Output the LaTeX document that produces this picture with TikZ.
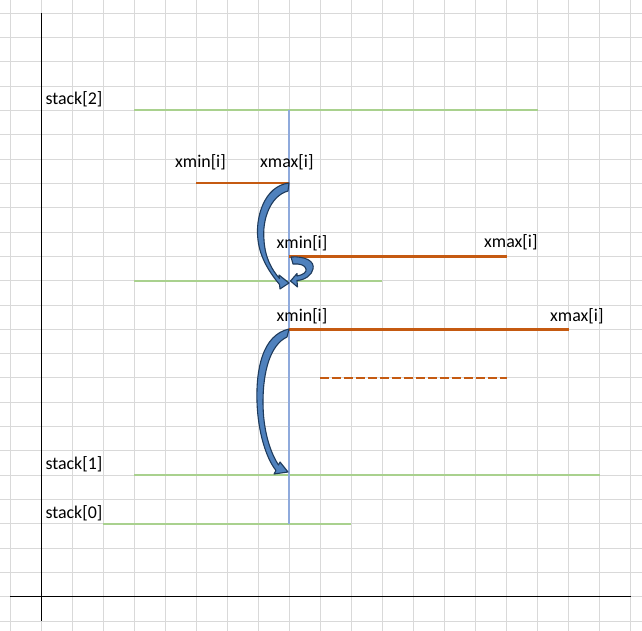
\documentclass[tikz,border=0pt]{standalone}
\usepackage{fontspec}
\setmainfont{Carlito}
\definecolor{gridgray}{HTML}{D9D9D9}
\definecolor{stackgreen}{HTML}{A9D18E}
\definecolor{rangeorange}{HTML}{C55A11}
\definecolor{sweepblue}{HTML}{8FAADC}
\definecolor{arrowfill}{HTML}{4F81BD}
\definecolor{arrowline}{HTML}{1F3B5C}
\tikzset{
  gridline/.style ={draw=gridgray, line width=1pt},
  axisline/.style ={draw=black, line width=0.9pt},
  stackline/.style={draw=stackgreen, line width=2.2pt},
  rangeline/.style={draw=rangeorange, line width=2.2pt},
  sweepline/.style={draw=sweepblue, line width=2pt},
  txt/.style      ={anchor=base west, inner sep=0pt, font=\fontsize{17.9}{21}\selectfont},
  bentarrow/.style={fill=arrowfill, draw=arrowline, line width=1.1pt, line join=round},
}

\begin{document}
\begin{tikzpicture}[x=1pt, y=-1pt]
    \useasboundingbox (0,0) rectangle (642,631);
    \fill[white] (0,0) rectangle (642,631);

    % sheet grid
    \foreach \k in {0,...,20}
      \draw[gridline] ({10+\k*31.03},0) -- ({10+\k*31.03},631);
    \foreach \j in {0,...,25}
      \draw[gridline] (0,{13.3+\j*24.31}) -- (642,{13.3+\j*24.31});

    % axes
    \draw[axisline] (41,13.3) -- (41,620.6);
    \draw[axisline] (10,596.7) -- (630.6,596.7);

    % stack entries
    \draw[stackline] (134.1,110) -- (537.5,110);
    \draw[stackline] (134.1,280.7) -- (382.4,280.7);
    \draw[stackline] (134.1,475.3) -- (599.6,475.3);
    \draw[stackline] (103.1,523.9) -- (351.3,523.9);

    % sweep line
    \draw[sweepline] (289.3,110) -- (289.3,523.9);

    % intervals
    \draw[rangeline] (196.2,183) -- (289.3,183);
    \draw[rangeline] (289.3,256.5) -- (506.5,256.5);
    \draw[rangeline] (289.3,329.4) -- (568.5,329.4);
    \draw[rangeline, dash pattern=on 8.5pt off 3.5pt] (320.3,378) -- (506.5,378);

    % bent arrows
    \draw[bentarrow] (289,183) .. controls (264,186) and (255,218) .. (258,240)
      .. controls (260,258) and (270,273) .. (279.5,284.5) -- (280,289) -- (289,283)
      -- (279,275) -- (279.5,278.5) .. controls (272,270) and (265,258) .. (264,240)
      .. controls (262,220) and (270,196) .. (288,191) -- cycle;
    \draw[bentarrow] (291,257) .. controls (305,256) and (315,261) .. (313,269)
      .. controls (312,275) and (305,280) .. (297,280.5) -- (297.5,287) -- (290.5,281)
      -- (297,273.5) -- (297,276) .. controls (303,275) and (307,272) .. (306,269)
      .. controls (305,265) and (300,263.5) .. (293,264) -- cycle;
    \draw[bentarrow] (289,329) .. controls (262,335) and (256,370) .. (257,402)
      .. controls (258,432) and (266,458) .. (276,470.5) -- (274,474) -- (288,472)
      -- (280,462) -- (278.5,465) .. controls (270,452) and (263,430) .. (263,402)
      .. controls (263,372) and (270,345) .. (287,337) -- cycle;

    % labels
    \node[txt] (stacktwo)  at (45.3,104.7) {stack[2]};
    \node[txt] (stackone)  at (45.3,469.7) {stack[1]};
    \node[txt] (stackzero) at (45.3,518.3) {stack[0]};
    \node[txt] (minone)   at (175,167.5) {xmin[i]};
    \node[txt] (maxone)   at (260,167.5) {xmax[i]};
    \node[txt] (mintwo)   at (276.5,248.5) {xmin[i]};
    \node[txt] (maxtwo)   at (484,247) {xmax[i]};
    \node[txt] (minthree) at (276.5,321.5) {xmin[i]};
    \node[txt] (maxthree) at (550,321) {xmax[i]};
\end{tikzpicture}
\end{document}
